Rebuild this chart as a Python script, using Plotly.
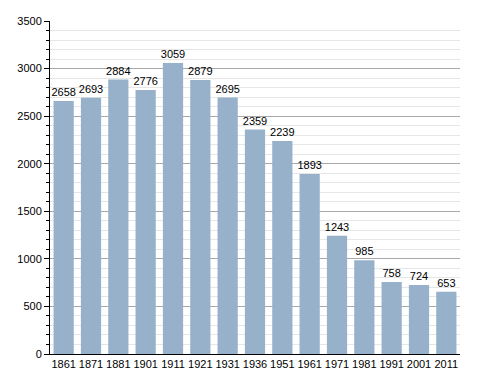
import plotly.graph_objects as go

years = ["1861", "1871", "1881", "1901", "1911", "1921", "1931", "1936", "1951", "1961", "1971", "1981", "1991", "2001", "2011"]
population = [2658, 2693, 2884, 2776, 3059, 2879, 2695, 2359, 2239, 1893, 1243, 985, 758, 724, 653]
y_ticks = [0, 500, 1000, 1500, 2000, 2500, 3000, 3500]

fig = go.Figure(go.Bar(
    x=years, y=population,
    marker=dict(color="#98b1cb", line=dict(width=0)),
    text=[str(v) for v in population], textposition="outside",
    textfont=dict(family="Liberation Sans, Arial", size=11, color="black"),
    constraintext="none",
    cliponaxis=False,
    width=0.74,
))

# page body has an 8px default margin, so the figure is sized/positioned to compensate
fig.update_layout(
    width=480, height=365,
    margin=dict(l=42, r=28, t=13, b=19),
    paper_bgcolor="white", plot_bgcolor="white",
    showlegend=False,
    font=dict(family="Liberation Sans, Arial", size=11, color="black"),
    xaxis=dict(
        showline=True, linecolor="black", linewidth=1,
        ticks="", showgrid=False, tickfont=dict(size=11),
        range=[-0.5, len(years) - 0.5], automargin=False,
    ),
    yaxis=dict(
        range=[0, 3500], tickvals=y_ticks,
        showline=True, linecolor="black", linewidth=1,
        ticks="outside", ticklen=5, tickcolor="black",
        showgrid=True, gridcolor="#a8a8a8", gridwidth=1,
        zeroline=False, tickfont=dict(size=11), automargin=False,
        minor=dict(dtick=100, ticks="outside", ticklen=3, tickcolor="black",
                   showgrid=True, gridcolor="#e6e6e6", gridwidth=1),
    ),
)

fig.write_html("out.html")
